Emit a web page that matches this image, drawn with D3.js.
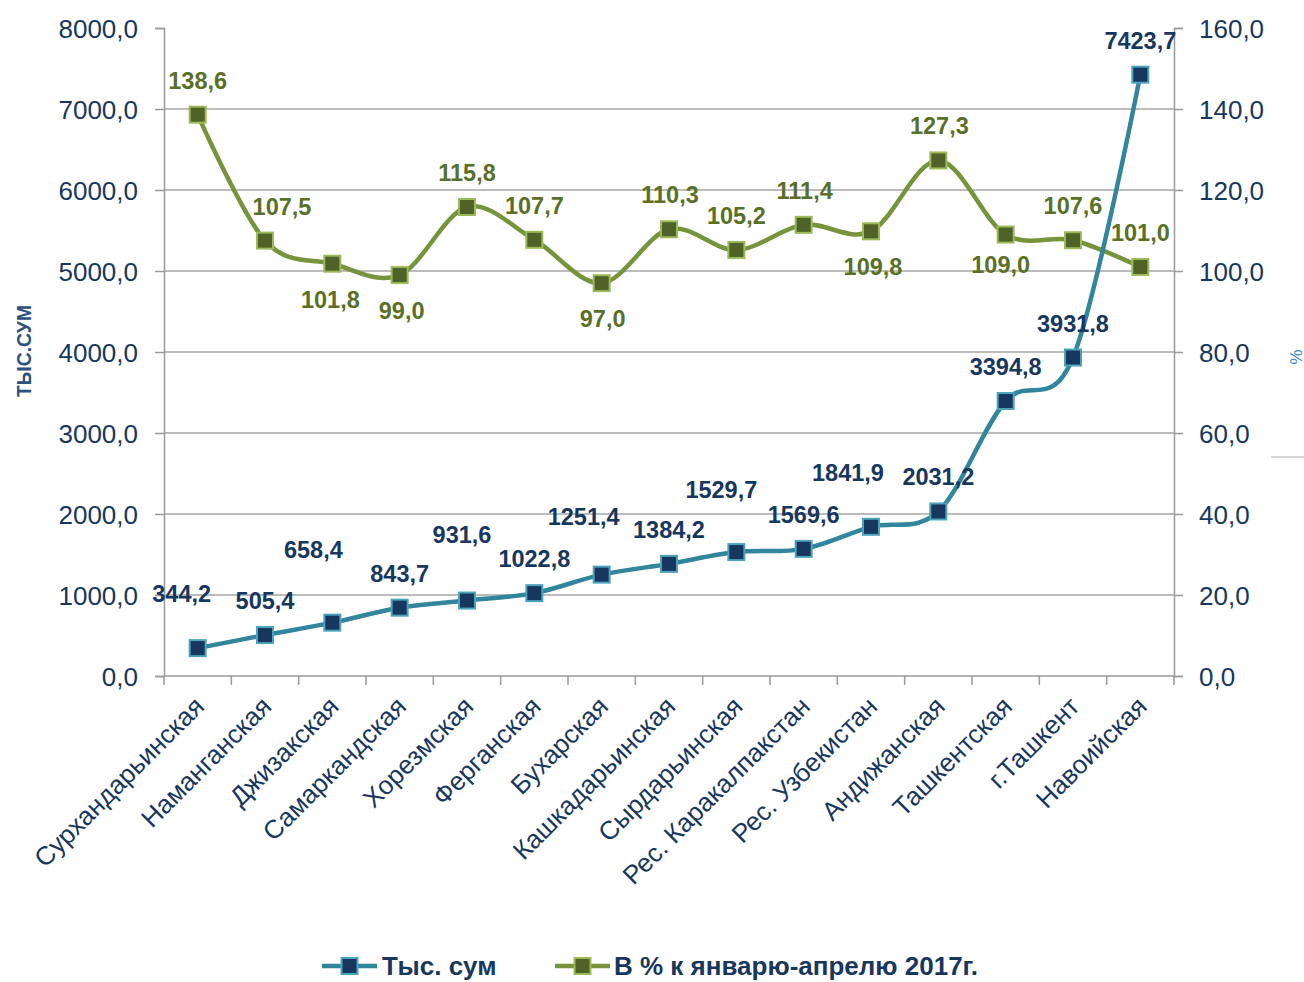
<!DOCTYPE html>
<html lang="ru">
<head>
<meta charset="UTF-8">
<title>Тыс. сум и % к январю-апрелю 2017г.</title>
<script src="https://cdnjs.cloudflare.com/ajax/libs/d3/7.8.5/d3.min.js"></script>
<style>
  body { margin: 0; background: #fff; font-family: "Liberation Sans", Arial, sans-serif; }
  svg { display: block; }
  .tick-label { font-size: 26px; fill: #17375E; }
  .cat-label { font-size: 26px; fill: #17375E; }
  .val-blue { font-size: 23.5px; font-weight: bold; fill: #17375E; }
  .val-green { font-size: 23.5px; font-weight: bold; fill: #5A7027; }
  .legend-text { font-size: 26px; font-weight: bold; fill: #17375E; }
</style>
</head>
<body>
<svg id="chart" width="1304" height="982"></svg>
<script>
// data
const regions = ["Сурхандарьинская", "Наманганская", "Джизакская", "Самаркандская", "Хорезмская",
  "Ферганская", "Бухарская", "Кашкадарьинская", "Сырдарьинская", "Рес. Каракалпакстан",
  "Рес. Узбекистан", "Андижанская", "Ташкентская", "г.Ташкент", "Навоийская"];
const thousandSum = [344.2, 505.4, 658.4, 843.7, 931.6, 1022.8, 1251.4, 1384.2, 1529.7, 1569.6,
  1841.9, 2031.2, 3394.8, 3931.8, 7423.7];
const percentJanApr = [138.6, 107.5, 101.8, 99.0, 115.8, 107.7, 97.0, 110.3, 105.2, 111.4,
  109.8, 127.3, 109.0, 107.6, 101.0];
const leftTicks = [0, 1000, 2000, 3000, 4000, 5000, 6000, 7000, 8000];
const rightTicks = [0, 20, 40, 60, 80, 100, 120, 140, 160];
const seriesNames = ["Тыс. сум", "В % к январю-апрелю 2017г."];

// label nudges (layout only): [dx, dy] from the marker to the text baseline
const blueNudge = [[-16, -46], [0, -26], [-19, -65], [0, -26], [-5, -58], [0, -26], [-18, -50],
  [0, -26], [-15, -54], [0, -26], [-23, -46], [0, -26], [0, -26], [0, -26], [0, -26]];
const greenNudge = [[0, -26], [17, -26], [-2, 44], [2, 44], [0, -26], [0, -26], [1, 44],
  [1, -26], [0, -26], [1, -26], [2, 44], [1, -26], [-5, 38], [0, -26], [0, -26]];

const svg = d3.select("#chart");
const plotLeft = 164, plotRight = 1174, plotTop = 28, plotBottom = 676;

const x = d3.scaleBand().domain(regions).range([plotLeft, plotRight]);
const yL = d3.scaleLinear().domain([0, 8000]).range([plotBottom, plotTop]);
const yR = d3.scaleLinear().domain([0, 160]).range([plotBottom, plotTop]);
const fmt = v => d3.format(".1f")(v).replace(".", ",");
const cx = d => x(d) + x.bandwidth() / 2;

// gridlines
svg.append("g").selectAll("line")
  .data(leftTicks.filter(t => t > 0 && t < 8000))
  .join("line")
  .attr("x1", plotLeft).attr("x2", plotRight)
  .attr("y1", d => yL(d)).attr("y2", d => yL(d))
  .attr("stroke", "#A6A6A6").attr("stroke-width", 1.5);

// axes
const axisColor = "#9A9A9A";
const gL = svg.append("g").attr("transform", `translate(${plotLeft},0)`)
  .call(d3.axisLeft(yL).tickValues(leftTicks).tickFormat(fmt).tickSize(9).tickPadding(17));
const gR = svg.append("g").attr("transform", `translate(${plotRight},0)`)
  .call(d3.axisRight(yR).tickValues(rightTicks).tickFormat(fmt).tickSize(9).tickPadding(16));
[gL, gR].forEach(g => {
  g.attr("font-family", null).attr("font-size", null);
  g.select(".domain").attr("stroke", axisColor).attr("stroke-width", 1.5);
  g.selectAll(".tick line").attr("stroke", axisColor).attr("stroke-width", 1.5);
  g.selectAll(".tick text").attr("class", "tick-label").attr("fill", null).attr("dy", "0.36em");
});

// bottom axis with ticks between categories
svg.append("line").attr("x1", plotLeft).attr("x2", plotRight).attr("y1", plotBottom).attr("y2", plotBottom)
  .attr("stroke", axisColor).attr("stroke-width", 1.5);
svg.append("g").selectAll("line")
  .data(regions.concat([null]))
  .join("line")
  .attr("x1", (d, i) => plotLeft + i * x.bandwidth())
  .attr("x2", (d, i) => plotLeft + i * x.bandwidth())
  .attr("y1", plotBottom).attr("y2", plotBottom + 9)
  .attr("stroke", axisColor).attr("stroke-width", 1.5);

svg.append("g").selectAll("text")
  .data(regions)
  .join("text")
  .attr("class", "cat-label")
  .attr("text-anchor", "end")
  .attr("transform", d => `translate(${cx(d) + 8},${plotBottom + 32}) rotate(-45)`)
  .text(d => d);

// axis titles
svg.append("text")
  .attr("transform", "translate(31,351) rotate(-90)")
  .attr("text-anchor", "middle")
  .attr("font-size", 20).attr("font-weight", "bold").attr("fill", "#2B5182")
  .attr("textLength", 92).attr("lengthAdjust", "spacingAndGlyphs")
  .text("ТЫС.СУМ");
svg.append("text")
  .attr("transform", "translate(1290,357) rotate(90)")
  .attr("text-anchor", "middle")
  .attr("font-size", 17).attr("fill", "#3A8BD8")
  .text("%");
svg.append("line").attr("x1", 1271).attr("x2", 1304).attr("y1", 457).attr("y2", 457)
  .attr("stroke", "#B0B0B0").attr("stroke-width", 1);

// lines
const curve = d3.curveCardinal.tension(0);
const blueLine = d3.line().x((d, i) => cx(regions[i])).y(d => yL(d)).curve(curve);
const greenLine = d3.line().x((d, i) => cx(regions[i])).y(d => yR(d)).curve(curve);

const series = [
  { name: seriesNames[0], values: thousandSum, y: yL, line: blueLine, stroke: "#31859C", fill: "#17375E", edge: "#4BA3BC" },
  { name: seriesNames[1], values: percentJanApr, y: yR, line: greenLine, stroke: "#77933C", fill: "#4F6228", edge: "#9BBB59" }
];

// green first, blue on top
[series[1], series[0]].forEach(s => {
  svg.append("path").datum(s.values)
    .attr("d", s.line)
    .attr("fill", "none").attr("stroke", s.stroke).attr("stroke-width", 4.5)
    .attr("stroke-linejoin", "round");
  svg.append("g").selectAll("rect")
    .data(s.values)
    .join("rect")
    .attr("x", (d, i) => cx(regions[i]) - 8)
    .attr("y", d => s.y(d) - 8)
    .attr("width", 16).attr("height", 16)
    .attr("fill", s.fill).attr("stroke", s.edge).attr("stroke-width", 2);
});

// value labels
svg.append("g").selectAll("text")
  .data(percentJanApr)
  .join("text")
  .attr("class", "val-green")
  .attr("text-anchor", "middle")
  .attr("x", (d, i) => cx(regions[i]) + greenNudge[i][0])
  .attr("y", (d, i) => yR(d) + greenNudge[i][1])
  .text(fmt);

svg.append("g").selectAll("text")
  .data(thousandSum)
  .join("text")
  .attr("class", "val-blue")
  .attr("text-anchor", "middle")
  .attr("x", (d, i) => cx(regions[i]) + blueNudge[i][0])
  .attr("y", (d, i) => yL(d) + blueNudge[i][1])
  .text(fmt);

// legend
const legendItems = [
  { s: series[0], x0: 322, x1: 377, text: 382 },
  { s: series[1], x0: 555, x1: 610, text: 614 }
];
const ly = 966;
legendItems.forEach(it => {
  svg.append("line").attr("x1", it.x0).attr("x2", it.x1).attr("y1", ly).attr("y2", ly)
    .attr("stroke", it.s.stroke).attr("stroke-width", 4.5);
  const mx = (it.x0 + it.x1) / 2;
  svg.append("rect").attr("x", mx - 8).attr("y", ly - 8).attr("width", 16).attr("height", 16)
    .attr("fill", it.s.fill).attr("stroke", it.s.edge).attr("stroke-width", 2);
  svg.append("text").attr("class", "legend-text").attr("x", it.text).attr("y", ly + 9)
    .text(it.s.name);
});
</script>
</body>
</html>
